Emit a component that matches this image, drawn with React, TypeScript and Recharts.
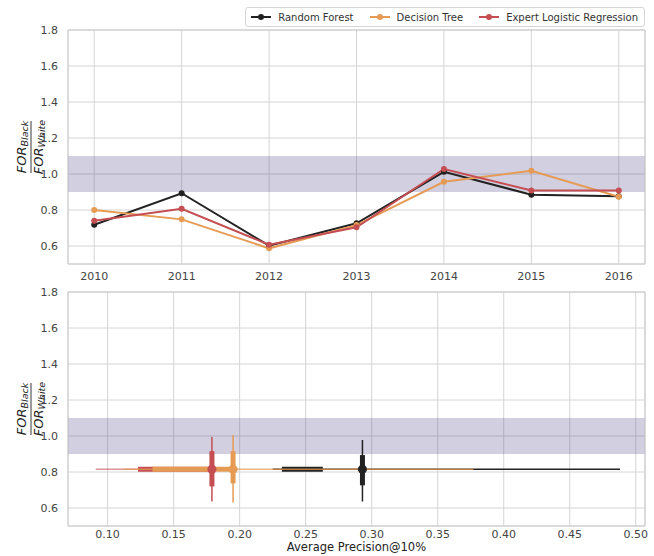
import {
  ComposedChart, LineChart, Line, Scatter, ErrorBar, XAxis, YAxis,
  CartesianGrid, ReferenceArea, Label,
} from 'recharts';

const years = [2010, 2011, 2012, 2013, 2014, 2015, 2016];
const rfFor = [0.718, 0.893, 0.602, 0.726, 1.012, 0.885, 0.876];
const dtFor = [0.80, 0.748, 0.587, 0.716, 0.957, 1.018, 0.874];
const lrFor = [0.74, 0.807, 0.607, 0.704, 1.028, 0.908, 0.908];

const yTicks = [0.6, 0.8, 1.0, 1.2, 1.4, 1.6, 1.8];
const yDomain = [0.5, 1.8];
const parityBand = [0.9, 1.1];
const apTicks = [0.1, 0.15, 0.2, 0.25, 0.3, 0.35, 0.4, 0.45, 0.5];

// bottom panel, order: Random Forest, Decision Tree, Expert Logistic Regression
const apMean = [0.293, 0.195, 0.179];
const apCiLow = [0.225, 0.112, 0.091];
const apCiHigh = [0.488, 0.377, 0.185];
const apIqrLow = [0.232, 0.134, 0.123];
const apIqrHigh = [0.263, 0.195, 0.18];
const forMean = [0.815, 0.815, 0.815];
const forCiLow = [0.636, 0.63, 0.636];
const forCiHigh = [0.978, 1.005, 0.994];
const forIqrLow = [0.726, 0.737, 0.72];
const forIqrHigh = [0.894, 0.916, 0.916];

const models = ['Random Forest', 'Decision Tree', 'Expert Logistic Regression'];
const colors = ['#222222', '#e69b55', '#c44e52'];

const font = '"DejaVu Sans", sans-serif';
const tickStyle = { fontSize: 11, fill: '#444', fontFamily: font };

const lineData = years.map((y, i) => ({ year: y, rf: rfFor[i], dt: dtFor[i], lr: lrFor[i] }));

const pointRows = models.map((m, i) => [{
  ap: apMean[i],
  fr: forMean[i],
  apCi: [apMean[i] - apCiLow[i], apCiHigh[i] - apMean[i]],
  apIqr: [apMean[i] - apIqrLow[i], apIqrHigh[i] - apMean[i]],
  frCi: [forMean[i] - forCiLow[i], forCiHigh[i] - forMean[i]],
  frIqr: [forMean[i] - forIqrLow[i], forIqrHigh[i] - forMean[i]],
}]);

function FracLabel(props: any) {
  const vb = props.viewBox || {};
  const cy = vb.y + vb.height / 2;
  return (
    <g transform={`translate(31, ${cy}) rotate(-90)`} fontFamily={font} fill="#222" fontStyle="italic">
      <text x={0} y={-5} textAnchor="middle" fontSize={13}>
        FOR<tspan fontSize={9.5} dy={2}>Black</tspan>
      </text>
      <line x1={-26} x2={26} y1={0} y2={0} stroke="#222" strokeWidth={0.9} />
      <text x={0} y={12} textAnchor="middle" fontSize={13}>
        FOR<tspan fontSize={9.5} dy={2}>White</tspan>
      </text>
    </g>
  );
}

function ApLabel(props: any) {
  const vb = props.viewBox || {};
  return (
    <text x={vb.x + vb.width / 2} y={vb.y + vb.height - 5} textAnchor="middle"
      fontSize={11.5} fill="#222" fontFamily={font}>
      Average Precision@10%
    </text>
  );
}

function LegendBox() {
  return (
    <div style={{
      position: 'absolute', top: 7, right: 9, zIndex: 2,
      display: 'flex', alignItems: 'center', border: '1px solid #d6d6d6', borderRadius: 3,
      padding: '3px 6px 3px 4px', background: '#fff', fontFamily: font, fontSize: 10, color: '#333',
    }}>
      {models.map((m, i) => (
        <div key={m} style={{ display: 'flex', alignItems: 'center', marginLeft: i ? 15 : 0 }}>
          <svg width={22} height={12}>
            <line x1={1} x2={21} y1={6} y2={6} stroke={colors[i]} strokeWidth={2} />
            <circle cx={11} cy={6} r={3} fill={colors[i]} />
          </svg>
          <span style={{ marginLeft: 6 }}>{m}</span>
        </div>
      ))}
    </div>
  );
}

const hidden = () => <g />;

export default function App() {
  return (
    <div style={{ position: 'absolute', left: 0, top: 0, width: 654, height: 556, background: '#fff' }}>
      <LegendBox />
      <LineChart width={654} height={285} data={lineData} margin={{ top: 30, right: 9, left: 0, bottom: 0 }}>
        <CartesianGrid stroke="#d4d4d4" />
        <ReferenceArea y1={parityBand[0]} y2={parityBand[1]} fill="#484084" fillOpacity={0.25} stroke="none" />
        <ReferenceArea y1={yDomain[0]} y2={yDomain[1]} fill="none" stroke="#cccccc" />
        <XAxis dataKey="year" type="number" domain={[2009.7, 2016.3]} ticks={years} tickSize={0}
          tickMargin={8} height={21} axisLine={false} tick={tickStyle} allowDataOverflow />
        <YAxis type="number" domain={yDomain} ticks={yTicks} tickFormatter={(v) => v.toFixed(1)} width={68}
          tickSize={0} tickMargin={10} axisLine={false} tick={tickStyle} allowDataOverflow>
          <Label content={FracLabel} />
        </YAxis>
        <Line dataKey="rf" stroke={colors[0]} strokeWidth={2} dot={{ r: 3, fill: colors[0], strokeWidth: 0 }} isAnimationActive={false} />
        <Line dataKey="dt" stroke={colors[1]} strokeWidth={2} dot={{ r: 3, fill: colors[1], strokeWidth: 0 }} isAnimationActive={false} />
        <Line dataKey="lr" stroke={colors[2]} strokeWidth={2} dot={{ r: 3, fill: colors[2], strokeWidth: 0 }} isAnimationActive={false} />
      </LineChart>
      <ComposedChart width={654} height={271} margin={{ top: 7, right: 9, left: 0, bottom: 0 }}>
        <CartesianGrid stroke="#d4d4d4" />
        <ReferenceArea y1={parityBand[0]} y2={parityBand[1]} fill="#484084" fillOpacity={0.25} stroke="none" />
        <ReferenceArea y1={yDomain[0]} y2={yDomain[1]} fill="none" stroke="#cccccc" />
        <XAxis dataKey="ap" type="number" domain={[0.07, 0.507]} ticks={apTicks} tickFormatter={(v) => v.toFixed(2)}
          tickSize={0} tickMargin={4} height={30} axisLine={false} tick={tickStyle} allowDataOverflow>
          <Label content={ApLabel} />
        </XAxis>
        <YAxis dataKey="fr" type="number" domain={yDomain} ticks={yTicks} tickFormatter={(v) => v.toFixed(1)} width={68}
          tickSize={0} tickMargin={10} axisLine={false} tick={tickStyle} allowDataOverflow>
          <Label content={FracLabel} />
        </YAxis>
        {[0, 2, 1].map((i) => (
          <Scatter key={'h' + i} data={pointRows[i]} dataKey="fr" shape={hidden} isAnimationActive={false}>
            <ErrorBar dataKey="apCi" direction="x" width={0} stroke={colors[i]} strokeWidth={1.6}
              strokeOpacity={i === 0 ? 1 : i === 1 ? 0.75 : 0.6} isAnimationActive={false} />
            <ErrorBar dataKey="apIqr" direction="x" width={0} stroke={colors[i]} strokeWidth={5} isAnimationActive={false} />
          </Scatter>
        ))}
        {[0, 2, 1].map((i) => (
          <Scatter key={'v' + i} data={pointRows[i]} dataKey="fr" fill={colors[i]} isAnimationActive={false}
            shape={(p: any) => <circle cx={p.cx} cy={p.cy} r={4.5} fill={colors[i]} />}>
            <ErrorBar dataKey="frCi" direction="y" width={0} stroke={colors[i]} strokeWidth={1.5} isAnimationActive={false} />
            <ErrorBar dataKey="frIqr" direction="y" width={0} stroke={colors[i]} strokeWidth={5} isAnimationActive={false} />
          </Scatter>
        ))}
      </ComposedChart>
    </div>
  );
}
